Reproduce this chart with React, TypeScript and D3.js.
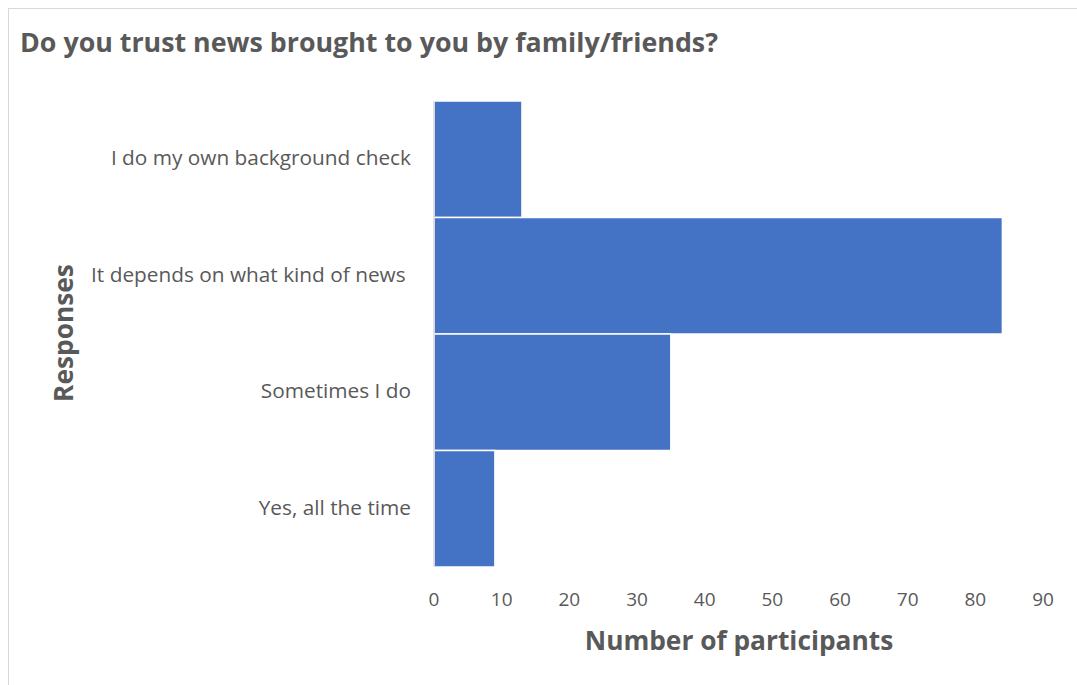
import React from "react";
import * as d3 from "d3";

const categories = [
  "I do my own background check",
  "It depends on what kind of news ",
  "Sometimes I do",
  "Yes, all the time",
];
const values = [13, 84, 35, 9];
const xTicks = [0, 10, 20, 30, 40, 50, 60, 70, 80, 90];
const title = "Do you trust news brought to you by family/friends?";
const xTitle = "Number of participants";
const yTitle = "Responses";

export default function App() {
  const W = 1077;
  const H = 685;
  const font = "Open Sans, sans-serif";
  const textColor = "#595959";
  const x = d3.scaleLinear().domain([0, 90]).range([434, 1043]);
  const y = d3.scaleBand<string>().domain(categories).range([101, 567]).paddingInner(0);

  return (
    <svg width={W} height={H} style={{ position: "absolute", left: 0, top: 0 }}>
      <rect x={8.5} y={8.5} width={1200} height={800} fill="#fff" stroke="#d9d9d9" strokeWidth={1} />
      <text x={20} y={52} fontFamily={font} fontWeight={700} fontSize={26.8} fill={textColor}>
        {title}
      </text>
      {categories.map((c, i) => (
        <rect
          key={c}
          x={x(0)}
          y={y(c)!}
          width={x(values[i]) - x(0)}
          height={y.bandwidth()}
          fill="#4472C4"
          stroke="#ffffff"
          strokeWidth={1.5}
        />
      ))}
      <line x1={434} x2={434} y1={y.range()[0]} y2={y.range()[1]} stroke="#d9d9d9" strokeWidth={1.5} />
      {categories.map((c) => (
        <text
          key={c}
          x={411}
          y={y(c)! + y.bandwidth() / 2 - 2}
          textAnchor="end"
          dominantBaseline="central"
          fontFamily={font}
          fontSize={20.8}
          fill={textColor}
          style={{ whiteSpace: "pre" }}
        >
          {c}
        </text>
      ))}
      {xTicks.map((t) => (
        <text
          key={t}
          x={x(t)}
          y={599}
          textAnchor="middle"
          dominantBaseline="central"
          fontFamily={font}
          fontSize={19}
          fill={textColor}
        >
          {t}
        </text>
      ))}
      <text
        x={739}
        y={640}
        textAnchor="middle"
        dominantBaseline="central"
        fontFamily={font}
        fontWeight={700}
        fontSize={26.3}
        fill={textColor}
      >
        {xTitle}
      </text>
      <text
        transform={`translate(63,333) rotate(-90)`}
        textAnchor="middle"
        dominantBaseline="central"
        fontFamily={font}
        fontWeight={700}
        fontSize={26.3}
        fill={textColor}
      >
        {yTitle}
      </text>
    </svg>
  );
}
